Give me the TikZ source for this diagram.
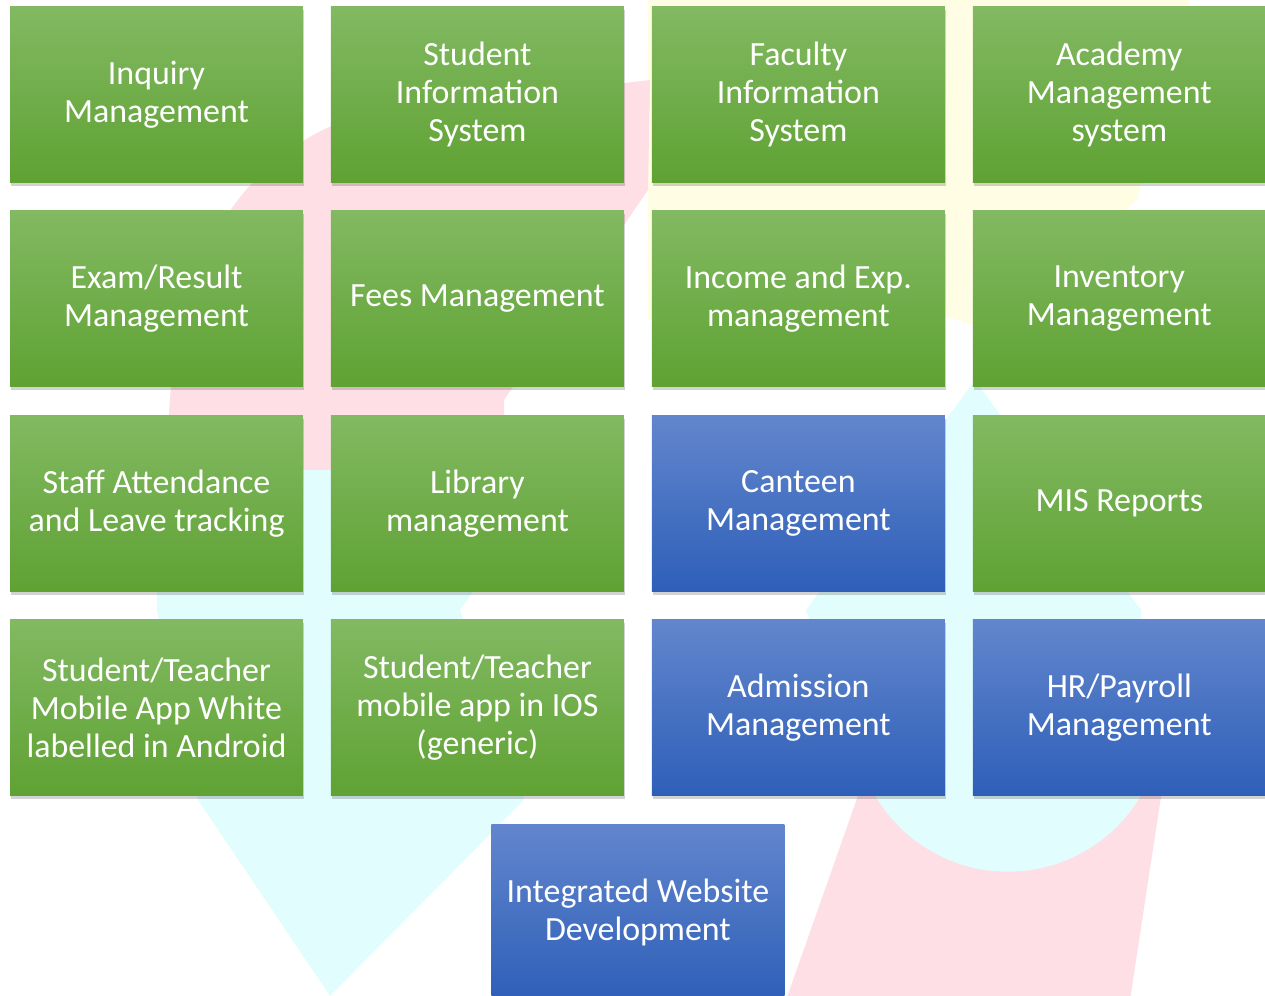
\documentclass[tikz,border=0pt]{standalone}
\usepackage{fontspec}
\setmainfont{Carlito}
\usetikzlibrary{positioning,shadows,calc}

\definecolor{grtop}{RGB}{130,185,98}
\definecolor{grbot}{RGB}{95,162,51}
\definecolor{bltop}{RGB}{98,134,205}
\definecolor{blbot}{RGB}{46,95,184}
\definecolor{wmpink}{RGB}{253,223,229}
\definecolor{wmcyan}{RGB}{226,253,253}
\definecolor{wmyellow}{RGB}{255,254,228}

\begin{document}
\begin{tikzpicture}[x=0.02cm,y=-0.02cm,node distance=6.42cm,
module/.style={rectangle,minimum width=5.86cm,minimum height=3.52cm,inner sep=2pt,
  align=center,text=white,font=\fontsize{19.3}{21.6}\selectfont,
  top color=grtop,bottom color=grbot,
  drop shadow={shadow xshift=0.02cm,shadow yshift=-0.07cm,opacity=0.22,fill=black!80}},
bluemodule/.style={module,top color=bltop,bottom color=blbot}]
\clip (0,0) rectangle (1265,996);
% faint logo behind the boxes
\fill[wmyellow] (648,0) -- (1190,0) -- (1137,200) -- (990,330) -- (930,312) -- (648,320) -- cycle;
\fill[wmpink] (165,470) -- (170,400) .. controls (180,250) and (250,150) .. (360,115) -- (650,80) -- (648,190) -- (504,400) -- (504,470) -- cycle;
\fill[wmcyan] (157,470) -- (560,470) -- (460,610) -- (524,800) -- (330,996) -- (198,800) -- (157,610) -- cycle;
\fill[wmpink] (860,790) -- (1162,790) -- (1130,1000) -- (786,1000) -- cycle;
\fill[wmcyan] (975,380) -- (1141,610) -- (1140,797) arc[start angle=31,end angle=149,radius=154] -- (806,610) -- cycle;

\node[module] (inq) at (156.5,94.5) {Inquiry\\Management};
\node[module] [right of=inq] (sis) {Student\\Information\\System};
\node[module] [right of=sis] (fis) {Faculty\\Information\\System};
\node[module] [right of=fis] (ams) {Academy\\Management\\system};

\node[module] [below of=inq,node distance=4.09cm] (exam) {Exam/Result\\Management};
\node[module] [right of=exam] (fees) {Fees Management};
\node[module] [right of=fees] (inc) {Income and Exp.\\management};
\node[module] [right of=inc] (inv) {Inventory\\Management};

\node[module] [below of=exam,node distance=4.09cm] (staff) {Staff Attendance\\and Leave tracking};
\node[module] [right of=staff] (lib) {Library\\management};
\node[bluemodule] [right of=lib] (cant) {Canteen\\Management};
\node[module] [right of=cant] (mis) {MIS Reports};

\node[module] [below of=staff,node distance=4.09cm] (andr) {Student/Teacher\\Mobile App White\\labelled in Android};
\node[module] [right of=andr] (ios) {Student/Teacher\\mobile app in IOS\\(generic)};
\node[bluemodule] [right of=ios] (adm) {Admission\\Management};
\node[bluemodule] [right of=adm] (hr) {HR/Payroll\\Management};

\node[bluemodule] (web) at ($(ios)!0.5!(adm)+(0,204.5)$) {Integrated Website\\Development};
\end{tikzpicture}
\end{document}
